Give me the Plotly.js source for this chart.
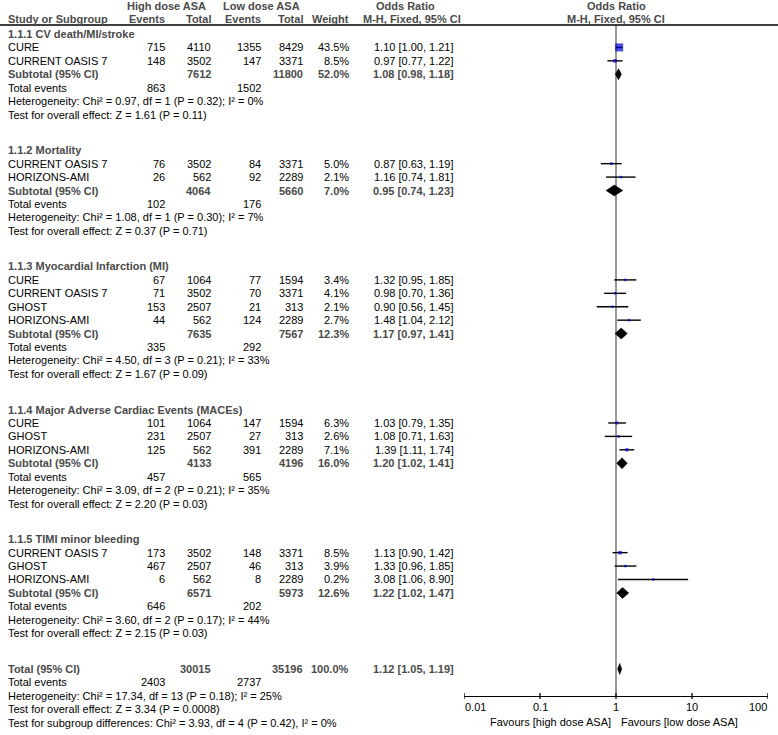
<!DOCTYPE html>
<html><head><meta charset="utf-8">
<script src="https://cdn.plot.ly/plotly-3.0.1.min.js"></script>
<style>html,body{margin:0;padding:0;background:#fff}</style>
</head><body><div id="chart" style="width:778px;height:735px"></div>
<script>
// ---------- DATA ----------
const groupTitles = ['1.1.1 CV death/MI/stroke','1.1.2 Mortality','1.1.3 Myocardial Infarction (MI)','1.1.4 Major Adverse Cardiac Events (MACEs)','1.1.5 TIMI minor bleeding'];
const groupSizes = [2,2,4,3,3];
const studyNames = ['CURE','CURRENT OASIS 7','CURRENT OASIS 7','HORIZONS-AMI','CURE','CURRENT OASIS 7','GHOST','HORIZONS-AMI','CURE','GHOST','HORIZONS-AMI','CURRENT OASIS 7','GHOST','HORIZONS-AMI'];
const highEvents = [715,148,76,26,67,71,153,44,101,231,125,173,467,6];
const highTotal  = [4110,3502,3502,562,1064,3502,2507,562,1064,2507,562,3502,2507,562];
const lowEvents  = [1355,147,84,92,77,70,21,124,147,27,391,148,46,8];
const lowTotal   = [8429,3371,3371,2289,1594,3371,313,2289,1594,313,2289,3371,313,2289];
const weights    = [43.5,8.5,5.0,2.1,3.4,4.1,2.1,2.7,6.3,2.6,7.1,8.5,3.9,0.2];
const orVal      = [1.10,0.97,0.87,1.16,1.32,0.98,0.90,1.48,1.03,1.08,1.39,1.13,1.33,3.08];
const orLo       = [1.00,0.77,0.63,0.74,0.95,0.70,0.56,1.04,0.79,0.71,1.11,0.90,0.96,1.06];
const orHi       = [1.21,1.22,1.19,1.81,1.85,1.36,1.45,2.12,1.35,1.63,1.74,1.42,1.85,8.90];
const subHighTotal = [7612,4064,7635,4133,6571];
const subLowTotal  = [11800,5660,7567,4196,5973];
const subWeight    = [52.0,7.0,12.3,16.0,12.6];
const subOR        = [1.08,0.95,1.17,1.20,1.22];
const subLo        = [0.98,0.74,0.97,1.02,1.02];
const subHi        = [1.18,1.23,1.41,1.41,1.47];
const teHigh = [863,102,335,457,646];
const teLow  = [1502,176,292,565,202];
const hetText = ['Heterogeneity: Chi² = 0.97, df = 1 (P = 0.32); I² = 0%','Heterogeneity: Chi² = 1.08, df = 1 (P = 0.30); I² = 7%','Heterogeneity: Chi² = 4.50, df = 3 (P = 0.21); I² = 33%','Heterogeneity: Chi² = 3.09, df = 2 (P = 0.21); I² = 35%','Heterogeneity: Chi² = 3.60, df = 2 (P = 0.17); I² = 44%'];
const testText = ['Test for overall effect: Z = 1.61 (P = 0.11)','Test for overall effect: Z = 0.37 (P = 0.71)','Test for overall effect: Z = 1.67 (P = 0.09)','Test for overall effect: Z = 2.20 (P = 0.03)','Test for overall effect: Z = 2.15 (P = 0.03)'];
const totalHighN = 30015, totalLowN = 35196, totalWeight = 100.0;
const totalOR = 1.12, totalLo = 1.05, totalHi = 1.19;
const totalTeHigh = 2403, totalTeLow = 2737;
const totalHet = 'Heterogeneity: Chi² = 17.34, df = 13 (P = 0.18); I² = 25%';
const totalTest = 'Test for overall effect: Z = 3.34 (P = 0.0008)';
const subgroupTest = 'Test for subgroup differences: Chi² = 3.93, df = 4 (P = 0.42), I² = 0%';
const tickVals = [0.01,0.1,1,10,100];
const tickText = ['0.01','0.1','1','10','100'];
const favLeft = 'Favours [high dose ASA]';
const favRight = 'Favours [low dose ASA]';

// ---------- LAYOUT CONSTANTS ----------
const W = 778, H = 735;
const ROW0 = 34, STEP = 13.42, GAP = 22.3;
const AXIS_Y = 696, HLINE_Y = 25;
const COL = {name:7, hE:166, hT:212, lE:262, lT:304, wt:350, orT:455};
const FONT = 'Liberation Sans, Arial, sans-serif';
const GREY = '#4a4a4a';
const BLUE = '#0000CC';

const ann = [];
function txt(t, xpx, y, anchor, bold, color) {
  ann.push({xref:'paper', yref:'y', x:xpx/W, y:y, text: bold ? '<b>'+t+'</b>' : t,
    xanchor:anchor, yanchor:'middle', showarrow:false, borderpad:0,
    font:{family:FONT, size:11, color: color || (bold ? GREY : '#000')}});
}
const f2 = v => v.toFixed(2);
const orStr = (o,l,h) => f2(o)+' ['+f2(l)+', '+f2(h)+']';

// header
txt('High dose ASA', 166, 6, 'center', true);
txt('Low dose ASA', 261, 6, 'center', true);
txt('Odds Ratio', 405, 6, 'center', true);
txt('Study or Subgroup', COL.name, 19, 'left', true);
txt('Events', COL.hE, 19, 'right', true);
txt('Total', COL.hT, 19, 'right', true);
txt('Events', COL.lE, 19, 'right', true);
txt('Total', COL.lT, 19, 'right', true);
txt('Weight', COL.wt, 19, 'right', true);
txt('M-H, Fixed, 95% CI', 412, 19, 'center', true);
ann.push({xref:'x', yref:'y', x:0, y:6, text:'<b>Odds Ratio</b>', showarrow:false, xanchor:'center', yanchor:'middle', borderpad:0, font:{family:FONT,size:11,color:GREY}});
ann.push({xref:'x', yref:'y', x:0, y:19, text:'<b>M-H, Fixed, 95% CI</b>', showarrow:false, xanchor:'center', yanchor:'middle', borderpad:0, font:{family:FONT,size:11,color:GREY}});

// rows
let y = ROW0;
let si = 0;
const ciX = [], ciY = [], sqX = [], sqY = [], sqS = [];
const diamonds = [];
const maxW = Math.max(...weights);
for (let g = 0; g < groupTitles.length; g++) {
  txt(groupTitles[g], COL.name, y, 'left', true); y += STEP;
  for (let k = 0; k < groupSizes[g]; k++, si++) {
    txt(studyNames[si], COL.name, y, 'left');
    txt(String(highEvents[si]), COL.hE, y, 'right');
    txt(String(highTotal[si]), COL.hT, y, 'right');
    txt(String(lowEvents[si]), COL.lE, y, 'right');
    txt(String(lowTotal[si]), COL.lT, y, 'right');
    txt(weights[si].toFixed(1)+'%', COL.wt, y, 'right');
    txt(orStr(orVal[si],orLo[si],orHi[si]), COL.orT, y, 'right');
    ciX.push(orLo[si], orHi[si], null); ciY.push(y, y, null);
    sqX.push(orVal[si]); sqY.push(y);
    sqS.push(Math.max(2.5, 8*Math.sqrt(weights[si]/maxW)));
    y += STEP;
  }
  txt('Subtotal (95% CI)', COL.name, y, 'left', true);
  txt(String(subHighTotal[g]), COL.hT, y, 'right', true);
  txt(String(subLowTotal[g]), COL.lT, y, 'right', true);
  txt(subWeight[g].toFixed(1)+'%', COL.wt, y, 'right', true);
  txt(orStr(subOR[g],subLo[g],subHi[g]), COL.orT, y, 'right', true);
  diamonds.push([subOR[g], subLo[g], subHi[g], y]);
  y += STEP;
  txt('Total events', COL.name, y, 'left');
  txt(String(teHigh[g]), COL.hE, y, 'right');
  txt(String(teLow[g]), COL.lE, y, 'right');
  y += STEP;
  txt(hetText[g], COL.name, y, 'left'); y += STEP;
  txt(testText[g], COL.name, y, 'left'); y += STEP + GAP;
}
txt('Total (95% CI)', COL.name, y, 'left', true);
txt(String(totalHighN), COL.hT, y, 'right', true);
txt(String(totalLowN), COL.lT, y, 'right', true);
txt(totalWeight.toFixed(1)+'%', COL.wt, y, 'right', true);
txt(orStr(totalOR,totalLo,totalHi), COL.orT, y, 'right', true);
diamonds.push([totalOR, totalLo, totalHi, y]);
y += STEP;
txt('Total events', COL.name, y, 'left');
txt(String(totalTeHigh), COL.hE, y, 'right');
txt(String(totalTeLow), COL.lE, y, 'right');
y += STEP;
txt(totalHet, COL.name, y, 'left'); y += STEP;
txt(totalTest, COL.name, y, 'left'); y += STEP;
txt(subgroupTest, COL.name, y, 'left');

// axis tick labels & favours
tickVals.forEach((v,i) => {
  ann.push({xref:'x', yref:'y', x:Math.log10(v), y:AXIS_Y+11, text:tickText[i], showarrow:false,
    xanchor: i===0 ? 'left' : (i===tickVals.length-1 ? 'right' : 'center'), yanchor:'middle', borderpad:0,
    font:{family:FONT,size:11,color:'#000'}});
});
ann.push({xref:'x', yref:'y', x:0, xshift:-4, y:AXIS_Y+26, text:favLeft, showarrow:false, xanchor:'right', yanchor:'middle', borderpad:0, font:{family:FONT,size:11,color:'#000'}});
ann.push({xref:'x', yref:'y', x:0, xshift:4, y:AXIS_Y+26, text:favRight, showarrow:false, xanchor:'left', yanchor:'middle', borderpad:0, font:{family:FONT,size:11,color:'#000'}});

// ---------- TRACES ----------
const traces = [];
traces.push({x:[1,1], y:[HLINE_Y, AXIS_Y], mode:'lines', line:{color:'#333', width:1}, hoverinfo:'skip', showlegend:false});
const tkX = [], tkY = [];
tickVals.forEach(v => { tkX.push(v, v, null); tkY.push(AXIS_Y-3, AXIS_Y+3, null); });
traces.push({x:tkX, y:tkY, mode:'lines', line:{color:'#000', width:1.3}, hoverinfo:'skip', showlegend:false});
traces.push({x:ciX, y:ciY, mode:'lines', line:{color:'#000', width:1.4}, hoverinfo:'skip', showlegend:false});
traces.push({x:sqX, y:sqY, mode:'markers', marker:{symbol:'square', size:sqS, color:BLUE, line:{width:0}}, hoverinfo:'skip', showlegend:false});
diamonds.forEach(d => {
  const [o,l,h,yy] = d;
  traces.push({x:[l,o,h,o,l], y:[yy,yy-5.5,yy,yy+5.5,yy], mode:'lines', fill:'toself', fillcolor:'#000',
    line:{color:'#000', width:0.5}, hoverinfo:'skip', showlegend:false});
});

const layout = {
  width:W, height:H, margin:{l:0,r:0,t:0,b:0}, paper_bgcolor:'#fff', plot_bgcolor:'rgba(0,0,0,0)',
  showlegend:false,
  xaxis:{type:'log', range:[-2,2], domain:[464/W, 768/W], anchor:'free', position:1-AXIS_Y/H,
    showline:true, linecolor:'#000', linewidth:1.3, ticks:'', showticklabels:false, showgrid:false, zeroline:false, fixedrange:true},
  yaxis:{range:[H,0], autorange:false, domain:[0,1], visible:false, showgrid:false, zeroline:false, fixedrange:true},
  shapes:[{type:'line', xref:'paper', yref:'y', x0:0, x1:1, y0:HLINE_Y, y1:HLINE_Y, line:{color:'#000', width:1.5}}],
  annotations: ann
};
Plotly.newPlot('chart', traces, layout, {staticPlot:true, displayModeBar:false});
</script></body></html>
